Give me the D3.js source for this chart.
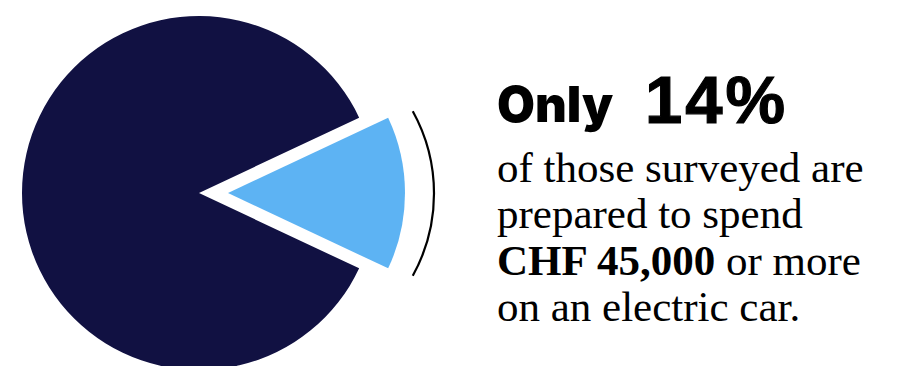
<!DOCTYPE html>
<html lang="en">
    <head>
        <meta charset="utf-8">
        <title>Only 14%</title>
        <script type="text/javascript" src="https://cdn.jsdelivr.net/npm/d3@7"></script>
        <style>
          body { margin: 0; background: #fff; }
        </style>
    </head>
    <body>
        <script type="text/javascript">
          // share of respondents: ready to spend CHF 45,000+ vs the rest
          const categories = ["45,000 or more", "less"]
          const shares = [14, 86]
          const colors = ["#5db3f3", "#111142"]

          const headline = ["Only", "14%"]
          const lines = [
            [{t: "of those surveyed are"}],
            [{t: "prepared to spend"}],
            [{t: "CHF 45,000", b: true}, {t: " or more"}],
            [{t: "on an electric car."}]
          ]

          const w = 907, h = 366
          const cx = 199, cy = 193, r = 177
          const explode = 29

          const svg = d3.select("body")
                        .append("svg")
                        .attr("width", w)
                        .attr("height", h)

          const half = shares[0] / 100 * Math.PI
          const pie = d3.pie().sort(null)
                        .startAngle(Math.PI / 2 - half)
                        .endAngle(Math.PI / 2 - half + 2 * Math.PI)
          const arc = d3.arc().innerRadius(0).outerRadius(r)

          const slices = pie(shares)

          svg.append("g")
            .attr("transform", `translate(${cx},${cy})`)
            .selectAll("path")
            .data(slices)
            .enter()
            .append("path")
            .attr("d", arc)
            .attr("fill", (d, i) => colors[i])
            .attr("transform", (d, i) => {
              if (i > 0) return null
              const mid = (d.startAngle + d.endAngle) / 2
              return `translate(${Math.sin(mid) * explode},${-Math.cos(mid) * explode})`
            })

          // bracket arc beside the highlighted slice
          const bracket = d3.arc().innerRadius(170).outerRadius(170)
                            .startAngle(Math.PI / 2 - 0.505).endAngle(Math.PI / 2 + 0.505)
          svg.append("path")
            .attr("transform", `translate(${cx + 65},${cy + 0.5})`)
            .attr("d", bracket)
            .attr("fill", "none")
            .attr("stroke", "#000")
            .attr("stroke-width", 2.2)

          const tx = 497
          svg.append("text")
            .text(headline[0])
            .attr("x", tx)
            .attr("y", 122)
            .attr("font-family", "'Arial Black', Inter, Roboto, sans-serif")
            .attr("font-weight", 900)
            .attr("font-size", "49px")
            .attr("fill", "#000")
          svg.append("text")
            .text(headline[1])
            .attr("x", 645)
            .attr("y", 123)
            .attr("font-family", "Arial, 'Liberation Sans', sans-serif")
            .attr("font-weight", 700)
            .attr("font-size", "67px")
            .attr("letter-spacing", "3px")
            .attr("fill", "#000")
            .attr("stroke", "#000")
            .attr("stroke-width", 1.2)

          const baselines = [182, 228, 275, 321]
          lines.forEach((parts, i) => {
            const t = svg.append("text")
              .attr("x", tx)
              .attr("y", baselines[i])
              .attr("font-family", "Georgia, 'Liberation Serif', serif")
              .attr("font-size", "43px")
              .attr("fill", "#000")
            parts.forEach((p) => {
              t.append("tspan")
                .text(p.t)
                .attr("font-weight", p.b ? 700 : 400)
                .style("white-space", "pre")
            })
          })
        </script>
    </body>
</html>
